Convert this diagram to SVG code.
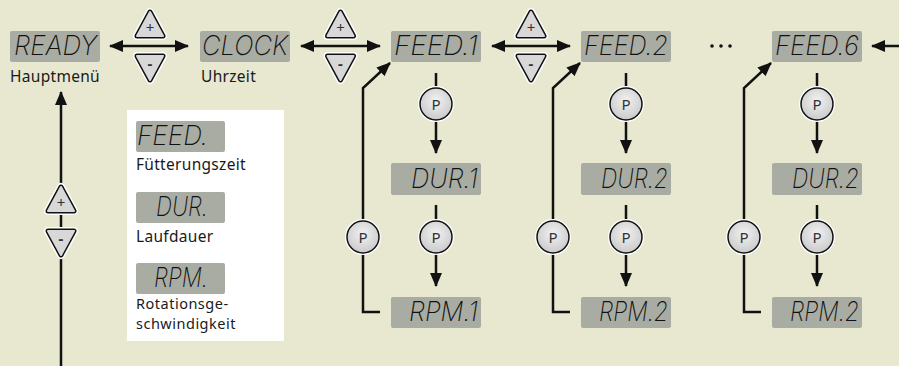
<svg xmlns="http://www.w3.org/2000/svg" width="899" height="366" viewBox="0 0 899 366">
<style>
.bg{fill:#e7e8cf}
.lcd{fill:#a9aca3}
.seg{font-family:Inter,"Liberation Mono",monospace;font-style:italic;font-weight:200;font-size:27px;fill:#111}
.lbl{font-family:"Noto Sans","DejaVu Sans",sans-serif;font-size:15.5px;letter-spacing:0.3px;fill:#1a1a1a}
.lbl2{font-family:"Noto Sans","DejaVu Sans",sans-serif;font-size:14.5px;letter-spacing:0.5px;fill:#1a1a1a}
.ln{fill:none;stroke:#111;stroke-width:2.5;stroke-linejoin:miter}
.ptx{font-family:"Noto Sans","DejaVu Sans",sans-serif;font-size:15px;fill:#333;text-anchor:middle}
.btx{font-family:"Noto Sans","DejaVu Sans",sans-serif;font-size:15px;fill:#333;text-anchor:middle}
</style>
<defs>
<radialGradient id="gr" cx="50%" cy="40%" r="60%"><stop offset="0" stop-color="#f2f2f2"/><stop offset="1" stop-color="#cacaca"/></radialGradient>
<marker id="ah" viewBox="0 0 14 12" markerWidth="14" markerHeight="12" refX="13" refY="6" orient="auto-start-reverse" markerUnits="userSpaceOnUse"><path d="M0,0 L14,6 L0,12 z" fill="#111"/></marker>
<g id="pbtn"><circle r="18" fill="#fff"/><circle r="16" fill="url(#gr)" stroke="#111" stroke-width="1.5"/><text class="ptx" y="5.5">P</text></g>
<g id="plus"><polygon points="0,-13 13,11 -13,11" fill="#fff" stroke="#fff" stroke-width="8" stroke-linejoin="round"/><polygon points="0,-13 13,11 -13,11" fill="#111" stroke="#111" stroke-width="5" stroke-linejoin="round"/><polygon points="0,-13 13,11 -13,11" fill="#d8d8d8" stroke="#d8d8d8" stroke-width="2" stroke-linejoin="round"/><text class="btx" y="7.5">+</text></g>
<g id="minus"><polygon points="0,13 13,-11 -13,-11" fill="#fff" stroke="#fff" stroke-width="8" stroke-linejoin="round"/><polygon points="0,13 13,-11 -13,-11" fill="#111" stroke="#111" stroke-width="5" stroke-linejoin="round"/><polygon points="0,13 13,-11 -13,-11" fill="#d8d8d8" stroke="#d8d8d8" stroke-width="2" stroke-linejoin="round"/><text class="btx" y="2" font-weight="bold">-</text></g>
</defs>
<rect class="bg" x="0" y="0" width="899" height="366"/>

<g id="connectors">
<line class="ln" x1="110" y1="46" x2="188" y2="46" marker-start="url(#ah)" marker-end="url(#ah)"/>
<line class="ln" x1="301" y1="46" x2="380" y2="46" marker-start="url(#ah)" marker-end="url(#ah)"/>
<line class="ln" x1="492" y1="46" x2="570" y2="46" marker-start="url(#ah)" marker-end="url(#ah)"/>
<line class="ln" x1="899" y1="46" x2="872" y2="46" marker-end="url(#ah)"/>
<line class="ln" x1="61" y1="366" x2="61" y2="92" marker-end="url(#ah)"/>
<line class="ln" x1="436" y1="73" x2="436" y2="104"/>
<line class="ln" x1="436" y1="104" x2="436" y2="153" marker-end="url(#ah)"/>
<line class="ln" x1="436" y1="205" x2="436" y2="237"/>
<line class="ln" x1="436" y1="237" x2="436" y2="286" marker-end="url(#ah)"/>
<path class="ln" d="M380,312 L363,312 L363,88 L390,63" marker-end="url(#ah)"/>
<line class="ln" x1="626" y1="73" x2="626" y2="104"/>
<line class="ln" x1="626" y1="104" x2="626" y2="153" marker-end="url(#ah)"/>
<line class="ln" x1="626" y1="205" x2="626" y2="237"/>
<line class="ln" x1="626" y1="237" x2="626" y2="286" marker-end="url(#ah)"/>
<path class="ln" d="M570,312 L553,312 L553,88 L580,63" marker-end="url(#ah)"/>
<line class="ln" x1="817" y1="73" x2="817" y2="104"/>
<line class="ln" x1="817" y1="104" x2="817" y2="153" marker-end="url(#ah)"/>
<line class="ln" x1="817" y1="205" x2="817" y2="237"/>
<line class="ln" x1="817" y1="237" x2="817" y2="286" marker-end="url(#ah)"/>
<path class="ln" d="M761,312 L744,312 L744,88 L771,63" marker-end="url(#ah)"/>
</g>

<g id="buttons">
<use href="#plus" x="150" y="25"/><use href="#minus" x="150" y="67"/>
<use href="#plus" x="340.5" y="25"/><use href="#minus" x="340.5" y="67"/>
<use href="#plus" x="531" y="25"/><use href="#minus" x="531" y="67"/>
<use href="#plus" x="61" y="200"/><use href="#minus" x="61" y="242"/>
<use href="#pbtn" x="436" y="104"/><use href="#pbtn" x="436" y="237"/><use href="#pbtn" x="363" y="237"/>
<use href="#pbtn" x="626" y="104"/><use href="#pbtn" x="626" y="237"/><use href="#pbtn" x="553" y="237"/>
<use href="#pbtn" x="817" y="104"/><use href="#pbtn" x="817" y="237"/><use href="#pbtn" x="744" y="237"/>
</g>

<g id="n-ready"><rect class="lcd" x="10" y="31" width="90" height="31" rx="2"/><text class="seg" x="14" y="55" textLength="83" lengthAdjust="spacingAndGlyphs">READY</text><text class="lbl" x="10" y="82">Hauptmenü</text></g>
<g id="n-clock"><rect class="lcd" x="200" y="31" width="90" height="31" rx="2"/><text class="seg" x="202" y="55" textLength="86" lengthAdjust="spacingAndGlyphs">CLOCK</text><text class="lbl" x="201" y="82">Uhrzeit</text></g>

<g id="n-feed1"><rect class="lcd" x="391" y="31" width="90" height="31" rx="2"/><text class="seg" x="394" y="55" textLength="84" lengthAdjust="spacingAndGlyphs">FEED.1</text></g>
<g id="n-dur1"><rect class="lcd" x="391" y="163" width="90" height="32" rx="2"/><text class="seg" x="411" y="188" textLength="67" lengthAdjust="spacingAndGlyphs">DUR.1</text></g>
<g id="n-rpm1"><rect class="lcd" x="391" y="297" width="90" height="31" rx="2"/><text class="seg" x="409" y="321" textLength="69" lengthAdjust="spacingAndGlyphs">RPM.1</text></g>

<g id="n-feed2"><rect class="lcd" x="581" y="31" width="90" height="31" rx="2"/><text class="seg" x="584" y="55" textLength="84" lengthAdjust="spacingAndGlyphs">FEED.2</text></g>
<g id="n-dur2"><rect class="lcd" x="581" y="163" width="90" height="32" rx="2"/><text class="seg" x="601" y="188" textLength="67" lengthAdjust="spacingAndGlyphs">DUR.2</text></g>
<g id="n-rpm2"><rect class="lcd" x="581" y="297" width="90" height="31" rx="2"/><text class="seg" x="599" y="321" textLength="69" lengthAdjust="spacingAndGlyphs">RPM.2</text></g>

<g id="n-dots"><circle cx="712" cy="46" r="1.8" fill="#111"/><circle cx="721" cy="46" r="1.8" fill="#111"/><circle cx="730" cy="46" r="1.8" fill="#111"/></g>

<g id="n-feed6"><rect class="lcd" x="772" y="31" width="90" height="31" rx="2"/><text class="seg" x="775" y="55" textLength="84" lengthAdjust="spacingAndGlyphs">FEED.6</text></g>
<g id="n-dur6"><rect class="lcd" x="772" y="163" width="90" height="32" rx="2"/><text class="seg" x="792" y="188" textLength="67" lengthAdjust="spacingAndGlyphs">DUR.2</text></g>
<g id="n-rpm6"><rect class="lcd" x="772" y="297" width="90" height="31" rx="2"/><text class="seg" x="790" y="321" textLength="69" lengthAdjust="spacingAndGlyphs">RPM.2</text></g>

<g id="legend">
<rect x="127" y="110" width="157" height="231" fill="#fff"/>
<rect class="lcd" x="136" y="121" width="89" height="31" rx="2"/><text class="seg" x="137" y="145" textLength="71" lengthAdjust="spacingAndGlyphs">FEED.</text>
<text class="lbl" x="136" y="170">Fütterungszeit</text>
<rect class="lcd" x="136" y="192" width="89" height="31" rx="2"/><text class="seg" x="156" y="216" textLength="52" lengthAdjust="spacingAndGlyphs">DUR.</text>
<text class="lbl" x="136" y="242">Laufdauer</text>
<rect class="lcd" x="136" y="263" width="89" height="31" rx="2"/><text class="seg" x="154" y="287" textLength="54" lengthAdjust="spacingAndGlyphs">RPM.</text>
<text class="lbl2" x="136" y="309">Rotationsge-</text>
<text class="lbl2" x="136" y="329">schwindigkeit</text>
</g>
</svg>
